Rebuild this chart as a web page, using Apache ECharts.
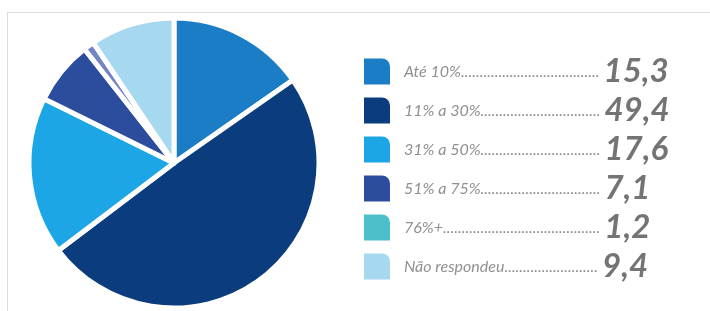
<!DOCTYPE html>
<html>
<head>
<meta charset="utf-8">
<script src="https://cdn.jsdelivr.net/npm/echarts@6/dist/echarts.min.js"></script>
<style>
  html, body { margin: 0; padding: 0; background: #fff; }
  #echarts { width: 710px; height: 311px; }
</style>
</head>
<body>
<div id="echarts"></div>
<script>
// dados
const categories = ['Até 10%', '11% a 30%', '31% a 50%', '51% a 75%', '76%+', 'Não respondeu'];
const values = [15.3, 49.4, 17.6, 7.1, 1.2, 9.4];
const sliceColors = ['#1b7dc5', '#0b3d7e', '#1ca6e6', '#2c4d9e', '#7683c4', '#a6d9f0'];
const legendColors = ['#1b7dc5', '#0b3d7e', '#1ca6e6', '#2c4d9e', '#4cbfca', '#a6d9f0'];

const labelFont = 'italic 16px Lato';
const ctx = document.createElement('canvas').getContext('2d');
ctx.font = labelFont;
// preenche com pontos até a coluna dos valores
function withDots(name) {
  let s = name;
  while (ctx.measureText(s + '.').width < 197) s += '.';
  return s;
}
function fmt(v) {
  return v.toFixed(1).replace('.', ',');
}

const myChart = echarts.init(document.getElementById('echarts'));
const option = {
  animation: false,
  graphic: [
    { type: 'line', shape: { x1: 7, y1: 12.5, x2: 710, y2: 12.5 }, style: { stroke: '#d3dde2', lineWidth: 1 } },
    { type: 'line', shape: { x1: 7.5, y1: 12, x2: 7.5, y2: 311 }, style: { stroke: '#d3dde2', lineWidth: 1 } },
  ],
  legend: {
    orient: 'vertical',
    left: 357,
    top: 50,
    height: 300,
    itemWidth: 28,
    itemHeight: 28,
    itemGap: 6,
    selectedMode: false,
    icon: 'path://M0,0 H19 A9,9 0 0 1 28,9 V28 H0 Z',
    data: categories.map((name, i) => ({ name: name, itemStyle: { color: legendColors[i] } })),
    formatter: function (name) {
      const i = categories.indexOf(name);
      return '{s|}{a|' + withDots(name) + '}{v|' + fmt(values[i]) + '}';
    },
    textStyle: {
      lineHeight: 28,
      rich: {
        s: { width: 8, lineHeight: 28 },
        a: { fontFamily: 'Lato', fontStyle: 'italic', fontSize: 16, color: '#909090', lineHeight: 28, verticalAlign: 'middle' },
        v: { fontFamily: 'Lato', fontStyle: 'italic', fontWeight: 'bold', fontSize: 33, color: '#747474', lineHeight: 28, verticalAlign: 'middle', padding: [0, 0, 0, 4] },
      },
    },
  },
  series: [
    {
      type: 'pie',
      center: [174, 163],
      radius: 145,
      startAngle: 90,
      clockwise: true,
      label: { show: false },
      labelLine: { show: false },
      itemStyle: { borderColor: '#ffffff', borderWidth: 5 },
      emphasis: { disabled: true },
      data: categories.map((name, i) => ({ name: name, value: values[i], itemStyle: { color: sliceColors[i] } })),
    },
  ],
};
myChart.setOption(option);
</script>
</body>
</html>
